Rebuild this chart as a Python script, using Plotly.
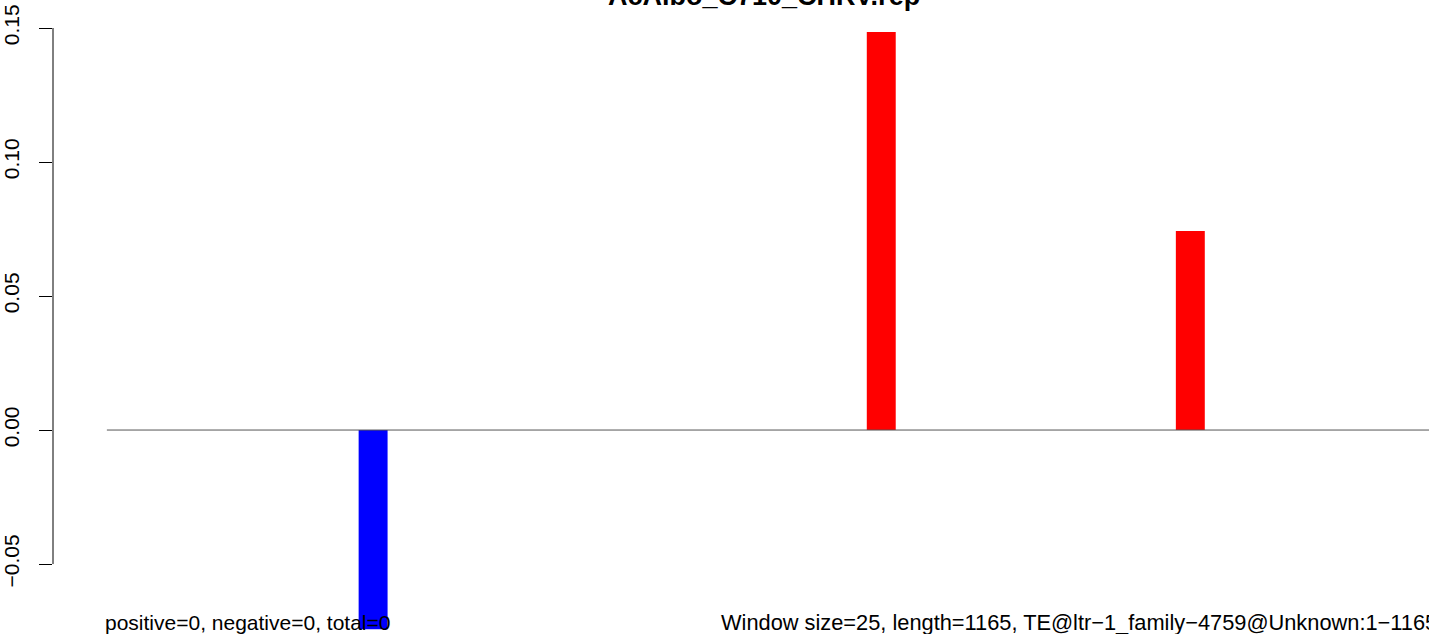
import plotly.graph_objects as go

# data
title_text = "AcAlbo_C710_CHRV.rep"
seq_length = 1165
window_size = 25
bar_pos = [230, 669, 936]
bar_val = [-0.0743, 0.1485, 0.0743]
bar_col = ["#0000FF", "#FF0000", "#FF0000"]
y_ticks = [-0.05, 0.0, 0.05, 0.10, 0.15]
y_ticktext = ["\u22120.05", "0.00", "0.05", "0.10", "0.15"]
left_note = "positive=0, negative=0, total=0"
right_note = "Window size=25, length=1165, TE@ltr\u22121_family\u22124759@Unknown:1\u22121165"

FONT = "Liberation Sans, Arial, Helvetica, sans-serif"

fig = go.Figure()

# baseline at zero across the whole sequence
fig.add_trace(go.Scatter(
    x=[0, seq_length], y=[0, 0],
    mode='lines',
    line=dict(color='#555555', width=1),
    hoverinfo='skip',
    showlegend=False
))

fig.add_trace(go.Bar(
    x=bar_pos, y=bar_val,
    width=window_size,
    marker=dict(color=bar_col, line=dict(width=0)),
    showlegend=False
))

fig.update_layout(
    width=1429, height=634,
    margin=dict(l=50, r=0, t=0, b=0),
    paper_bgcolor='white',
    plot_bgcolor='white',
    font=dict(family=FONT, color='black', size=21),
    xaxis=dict(
        range=[-46.55, 1142.2],
        visible=False,
        fixedrange=True
    ),
    yaxis=dict(
        range=[-0.0761, 0.16045],
        tickvals=y_ticks,
        ticktext=y_ticktext,
        tickangle=-90,
        ticks='outside',
        ticklen=13,
        tickwidth=1,
        tickcolor='black',
        ticklabelstandoff=12,
        showgrid=False,
        zeroline=False,
        showline=False,
        tickfont=dict(size=21, family=FONT)
    ),
    shapes=[dict(
        type='line', xref='paper', yref='y',
        x0=0, x1=0, y0=min(y_ticks), y1=max(y_ticks),
        line=dict(color='black', width=1)
    )],
    annotations=[
        dict(text=f"<b>{title_text}</b>", xref='paper', yref='paper',
             x=0.517, y=1.0063, xanchor='center', yanchor='middle',
             showarrow=False, font=dict(size=27, family=FONT)),
        dict(text=left_note, xref='x', yref='paper',
             x=-3.5, y=0.0189, xanchor='left', yanchor='middle',
             showarrow=False, font=dict(size=21, family=FONT)),
        dict(text=right_note, xref='paper', yref='paper',
             x=0.4837, y=0.0189, xanchor='left', yanchor='middle',
             showarrow=False, font=dict(size=21.8, family=FONT)),
    ]
)

fig.write_html("out.html", config={'displayModeBar': False},
               post_script="document.body.style.margin='0';")
